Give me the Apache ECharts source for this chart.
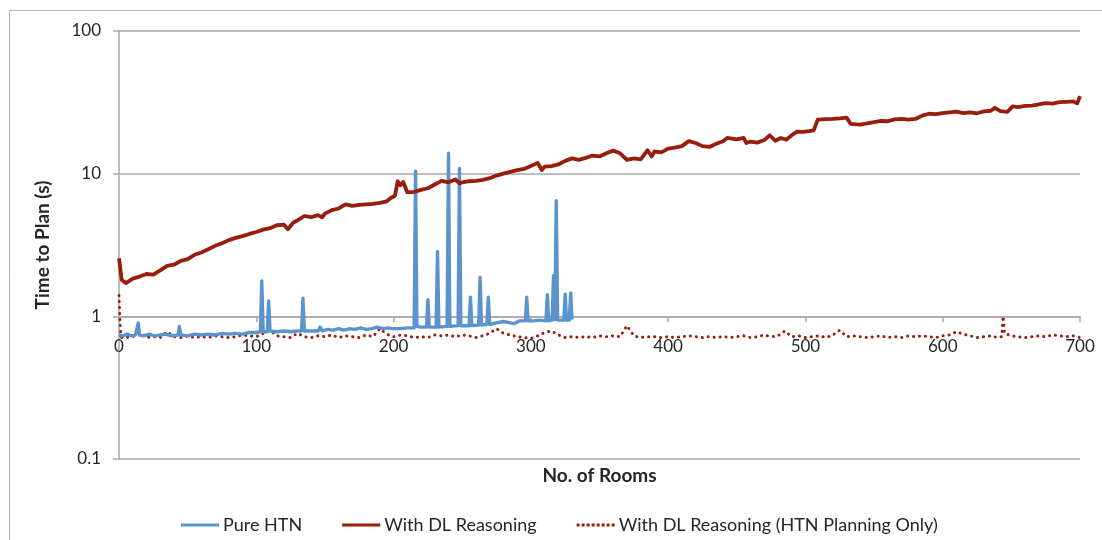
<!DOCTYPE html>
<html>
<head>
<meta charset="utf-8">
<title>Time to Plan vs. No. of Rooms</title>
<script src="https://cdn.jsdelivr.net/npm/echarts@6/dist/echarts.min.js"></script>
<style>
  html, body { margin: 0; padding: 0; background: #ffffff; }
  #chart { width: 1102px; height: 540px; }
</style>
</head>
<body>
<div id="chart"></div>
<script>
// ---- data: planning time (s) per number of rooms ----
const seriesNames = ['Pure HTN', 'With DL Reasoning', 'With DL Reasoning (HTN Planning Only)'];
const yTickLabels = ['0.1', '1', '10', '100'];

const htnRooms = [0, 3, 6, 9, 12, 13, 14, 15, 18, 22, 26, 30, 34, 38, 43, 44, 45, 50, 55, 60,
  65, 70, 75, 80, 85, 90, 95, 100, 103, 104, 105, 108, 109, 110, 115, 120, 125, 130, 133, 134,
  135, 140, 145, 146.5, 148, 152, 156, 160, 164, 168, 172, 176, 180, 184, 188, 192, 196, 200, 205, 210,
  215, 216, 217, 220, 224, 225, 226, 231, 232, 233, 239, 240, 241, 247, 248, 249, 255, 256, 257, 262,
  263, 264, 268, 269, 270, 275, 280, 285, 288, 292, 296, 297, 298, 302, 306, 311, 312, 313, 315.5, 316.5,
  317.5, 318.5, 319.5, 324, 325, 326, 328, 329, 330];
const htnTimes = [0.74, 0.73, 0.75, 0.73, 0.74, 0.76, 0.90, 0.74, 0.73, 0.75, 0.73, 0.74, 0.75, 0.73, 0.74, 0.85, 0.74, 0.73, 0.75, 0.74,
  0.75, 0.74, 0.76, 0.75, 0.76, 0.75, 0.77, 0.77, 0.78, 1.77, 0.78, 0.78, 1.28, 0.79, 0.78, 0.79, 0.78, 0.79, 0.79, 1.34,
  0.79, 0.79, 0.79, 0.84, 0.79, 0.81, 0.80, 0.82, 0.80, 0.82, 0.81, 0.83, 0.81, 0.82, 0.84, 0.82, 0.83, 0.82, 0.82, 0.83,
  0.83, 10.4, 0.85, 0.84, 0.84, 1.31, 0.84, 0.84, 2.85, 0.84, 0.85, 13.9, 0.85, 0.86, 10.9, 0.86, 0.86, 1.36, 0.86, 0.87,
  1.88, 0.87, 0.88, 1.36, 0.88, 0.90, 0.92, 0.90, 0.89, 0.93, 0.93, 1.36, 0.93, 0.93, 0.94, 0.93, 1.42, 0.93, 0.94, 1.93,
  0.95, 6.47, 0.94, 0.94, 1.43, 0.94, 0.94, 1.46, 0.95];

const dlRooms = [0, 2, 5, 10, 15, 20, 25, 30, 35, 40, 45, 50, 55, 60, 65, 70, 75, 80, 85, 90,
  95, 100, 105, 110, 115, 120, 123, 127, 130, 135, 140, 145, 148, 150, 155, 160, 165, 170, 175, 180,
  185, 190, 195, 198, 201, 203, 205, 207, 210, 215, 220, 225, 230, 235, 240, 245, 248, 250, 255, 260,
  265, 270, 275, 280, 285, 290, 295, 300, 305, 308, 310, 315, 320, 325, 330, 335, 340, 345, 350, 355,
  360, 365, 370, 375, 380, 385, 388, 390, 395, 400, 405, 410, 415, 420, 425, 430, 435, 440, 443, 450,
  455, 457, 460, 465, 470, 474, 478, 482, 486, 490, 494, 498, 503, 506, 509, 515, 520, 525, 530, 533,
  540, 545, 550, 555, 560, 565, 570, 575, 580, 585, 590, 595, 600, 605, 610, 615, 620, 625, 630, 635,
  638, 642, 647, 651, 655, 660, 665, 670, 675, 680, 685, 690, 695, 698, 700];
const dlTimes = [2.55, 1.80, 1.71, 1.84, 1.90, 1.98, 1.96, 2.10, 2.26, 2.30, 2.45, 2.52, 2.70, 2.80, 2.95, 3.12, 3.25, 3.42, 3.55, 3.65,
  3.78, 3.90, 4.05, 4.15, 4.35, 4.40, 4.08, 4.55, 4.70, 5.05, 4.95, 5.12, 4.95, 5.25, 5.55, 5.70, 6.10, 5.95, 6.05, 6.10,
  6.15, 6.25, 6.40, 6.75, 7.00, 8.85, 8.30, 8.75, 7.40, 7.45, 7.70, 7.90, 8.40, 8.90, 8.70, 9.10, 8.55, 8.70, 8.85, 8.90,
  9.05, 9.30, 9.70, 10.0, 10.3, 10.6, 10.8, 11.3, 11.9, 10.6, 11.2, 11.3, 11.6, 12.3, 12.8, 12.5, 12.9, 13.4, 13.2, 13.9,
  14.5, 13.9, 12.5, 12.8, 12.6, 14.6, 13.2, 14.3, 14.1, 15.0, 15.2, 15.6, 16.9, 16.4, 15.6, 15.4, 16.2, 16.9, 17.8, 17.4,
  17.8, 16.4, 16.8, 16.5, 17.2, 18.6, 17.0, 17.8, 17.3, 18.6, 19.7, 19.6, 19.9, 20.1, 23.9, 24.1, 24.2, 24.4, 24.7, 22.3,
  22.1, 22.5, 23.0, 23.4, 23.3, 24.0, 24.2, 23.9, 24.2, 25.5, 26.3, 26.1, 26.6, 26.9, 27.2, 26.6, 26.9, 26.5, 27.3, 27.6,
  28.9, 27.4, 27.1, 29.6, 29.3, 29.9, 30.0, 30.6, 31.2, 31.0, 31.7, 31.9, 32.1, 31.1, 35.0];

const planRooms = [0, 1, 2, 5, 10, 15, 20, 25, 30, 35, 40, 45, 50, 55, 60, 65, 70, 75, 80, 85,
  90, 95, 100, 105, 110, 115, 120, 125, 130, 135, 140, 145, 150, 155, 160, 165, 170, 175, 180, 185,
  190, 195, 200, 205, 210, 215, 220, 225, 230, 235, 240, 245, 250, 255, 260, 265, 270, 275, 280, 285,
  290, 295, 300, 305, 310, 315, 320, 325, 330, 335, 340, 345, 350, 355, 360, 365, 370, 375, 380, 385,
  390, 395, 400, 405, 410, 415, 420, 425, 430, 435, 440, 445, 450, 455, 460, 465, 470, 475, 480, 485,
  490, 495, 500, 505, 510, 515, 520, 525, 530, 535, 540, 545, 550, 555, 560, 565, 570, 575, 580, 585,
  590, 595, 600, 605, 610, 615, 620, 625, 630, 635, 640, 643, 644, 645, 650, 655, 660, 665, 670, 675,
  680, 685, 690, 695, 700];
const planTimes = [1.40, 0.80, 0.71, 0.71, 0.72, 0.77, 0.71, 0.72, 0.71, 0.78, 0.72, 0.71, 0.73, 0.71, 0.72, 0.71, 0.73, 0.72, 0.71, 0.72,
  0.74, 0.73, 0.72, 0.76, 0.80, 0.73, 0.72, 0.71, 0.76, 0.72, 0.71, 0.73, 0.72, 0.74, 0.71, 0.73, 0.72, 0.71, 0.74, 0.72,
  0.82, 0.75, 0.72, 0.74, 0.73, 0.71, 0.72, 0.71, 0.74, 0.73, 0.74, 0.72, 0.74, 0.73, 0.71, 0.73, 0.76, 0.82, 0.76, 0.74,
  0.72, 0.71, 0.70, 0.73, 0.77, 0.79, 0.74, 0.71, 0.72, 0.71, 0.72, 0.71, 0.73, 0.72, 0.73, 0.72, 0.86, 0.73, 0.71, 0.72,
  0.72, 0.71, 0.72, 0.71, 0.72, 0.73, 0.72, 0.71, 0.72, 0.71, 0.72, 0.71, 0.72, 0.73, 0.71, 0.72, 0.74, 0.72, 0.73, 0.79,
  0.72, 0.73, 0.71, 0.72, 0.73, 0.71, 0.74, 0.80, 0.72, 0.73, 0.72, 0.71, 0.72, 0.73, 0.71, 0.72, 0.71, 0.73, 0.72, 0.73,
  0.72, 0.71, 0.73, 0.74, 0.78, 0.75, 0.73, 0.71, 0.72, 0.73, 0.71, 0.72, 1.00, 0.76, 0.73, 0.72, 0.71, 0.72, 0.73, 0.72,
  0.74, 0.73, 0.72, 0.73, 0.71];

// ---- styling ----
const FONT = 'Lato, "Open Sans", "Liberation Sans", sans-serif';
const TEXT = '#262626';
const GRID_LINE = '#a9a9a9';
const BLUE = '#5b93cc';
const DARK_RED = '#981d0c';
const grid = { left: 119, right: 22, top: 31, bottom: 81 };
const plotHeight = 540 - grid.top - grid.bottom;

// legend keys: plain strokes for the solid series, a row of dots for the dotted one
const SOLID_KEY = 'path://M0,0h38v3h-38z';
const DOTTED_KEY = 'path://M0,0h3v3h-3z M5,0h3v3h-3z M10,0h3v3h-3z M15,0h3v3h-3z M20,0h3v3h-3z M25,0h3v3h-3z M30,0h3v3h-3z M35,0h3v3h-3z';

const pairs = (xs, ys) => xs.map((x, i) => [x, ys[i]]);

const chart = echarts.init(document.getElementById('chart'), null, { renderer: 'canvas' });

chart.setOption({
  animation: false,
  backgroundColor: '#ffffff',
  textStyle: { fontFamily: FONT, color: TEXT },
  graphic: [{
    // chart-area frame
    type: 'rect',
    silent: true,
    z: -10,
    shape: { x: 9.5, y: 10.5, width: 1200, height: 600 },
    style: { fill: null, stroke: '#b3b3b3', lineWidth: 1 }
  }],
  grid: grid,
  legend: {
    data: [
      { name: seriesNames[0], icon: SOLID_KEY },
      { name: seriesNames[1], icon: SOLID_KEY },
      { name: seriesNames[2], icon: DOTTED_KEY }
    ],
    left: 176,
    top: 511,
    itemWidth: 38,
    itemHeight: 3,
    itemGap: 40,
    textStyle: { fontFamily: FONT, fontSize: 18, color: TEXT, padding: [0, 0, 0, -1] }
  },
  xAxis: {
    type: 'value',
    min: 0,
    max: 700,
    interval: 100,
    // the horizontal axis crosses the value axis at 1 (one decade above 0.1)
    offset: -plotHeight / 3,
    name: 'No. of Rooms',
    nameLocation: 'middle',
    nameGap: 150,
    nameTextStyle: { fontFamily: FONT, fontSize: 19, fontWeight: 'bold', color: TEXT },
    axisLine: { show: true, lineStyle: { color: GRID_LINE, width: 1.5 } },
    axisTick: { show: true, length: 6, lineStyle: { color: GRID_LINE, width: 1.5 } },
    axisLabel: { fontFamily: FONT, fontSize: 17, color: TEXT, margin: 22 },
    splitLine: { show: false }
  },
  yAxis: {
    type: 'log',
    logBase: 10,
    min: 0.1,
    max: 100,
    name: 'Time to Plan (s)',
    nameLocation: 'middle',
    nameRotate: 90,
    nameGap: 67,
    nameTextStyle: { fontFamily: FONT, fontSize: 19, fontWeight: 'bold', color: TEXT },
    axisLine: { show: true, lineStyle: { color: GRID_LINE, width: 1.5 } },
    axisTick: { show: true, length: 6, lineStyle: { color: GRID_LINE, width: 1.5 } },
    axisLabel: {
      fontFamily: FONT, fontSize: 17, color: TEXT, margin: 18,
      formatter: (v) => {
        const s = String(Number(v.toPrecision(3)));
        return yTickLabels.indexOf(s) >= 0 ? s : '';
      }
    },
    splitLine: { show: true, lineStyle: { color: GRID_LINE, width: 1.5 } }
  },
  series: [
    {
      name: seriesNames[0],
      type: 'line',
      data: pairs(htnRooms, htnTimes),
      symbol: 'none',
      z: 3,
      lineStyle: { color: BLUE, width: 3.4, join: 'round' },
      itemStyle: { color: BLUE }
    },
    {
      name: seriesNames[1],
      type: 'line',
      data: pairs(dlRooms, dlTimes),
      symbol: 'none',
      z: 4,
      lineStyle: { color: DARK_RED, width: 3.8, join: 'round' },
      itemStyle: { color: DARK_RED }
    },
    {
      name: seriesNames[2],
      type: 'line',
      data: pairs(planRooms, planTimes),
      symbol: 'none',
      z: 2,
      lineStyle: { color: DARK_RED, width: 3, type: [0.1, 5.9], cap: 'round', join: 'round' },
      itemStyle: { color: DARK_RED }
    }
  ]
});
</script>
</body>
</html>
